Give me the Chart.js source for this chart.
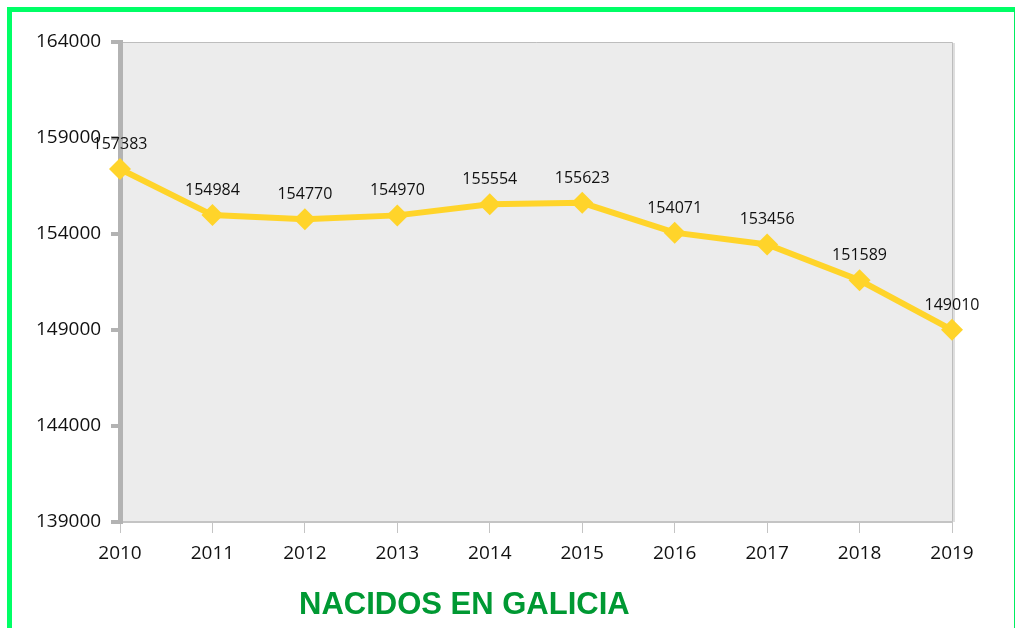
<!DOCTYPE html>
<html>
<head>
<meta charset="utf-8">
<title>Nacidos en Galicia</title>
<script src="https://cdn.jsdelivr.net/npm/chart.js@4"></script>
<style>
  body{margin:0;background:#fff;overflow:hidden;}
  #marco{position:absolute;left:7px;top:7px;width:1008px;height:640px;box-sizing:border-box;
    border-top:5px solid #00ff66;border-left:5px solid #00ff66;border-right:1px solid #00ee60;pointer-events:none;}
  #titulo{position:absolute;left:299px;top:588px;font:bold 31px "Liberation Sans",Arial,sans-serif;
    color:#009933;line-height:31px;white-space:nowrap;}
</style>
</head>
<body>
<canvas id="grafico" width="1016" height="628"></canvas>
<div id="marco"></div>
<div id="titulo">NACIDOS EN GALICIA</div>
<script>
const anios = ["2010","2011","2012","2013","2014","2015","2016","2017","2018","2019"];
const nacidos = [157383,154984,154770,154970,155554,155623,154071,153456,151589,149010];
const ticksY = [139000,144000,149000,154000,159000,164000];

const fondo = {
    id: 'fondo',
    beforeDraw(chart){
        const ctx = chart.ctx;
        const a = chart.chartArea;
        ctx.save();
        ctx.fillStyle = '#ececec';
        ctx.fillRect(a.left, a.top, a.right - a.left, a.bottom - a.top);
        // borde de arriba y derecha
        ctx.strokeStyle = '#bdbdbd';
        ctx.lineWidth = 1;
        ctx.beginPath();
        ctx.moveTo(a.left, a.top + 0.5);
        ctx.lineTo(a.right + 0.5, a.top + 0.5);
        ctx.lineTo(a.right + 0.5, a.bottom);
        ctx.stroke();
        ctx.strokeStyle = '#dedede';
        ctx.lineWidth = 2;
        ctx.beginPath();
        ctx.moveTo(a.right + 2, a.top + 1);
        ctx.lineTo(a.right + 2, a.bottom);
        ctx.stroke();
        ctx.restore();
    }
};

const etiquetas = {
    id: 'etiquetas',
    afterDatasetsDraw(chart){
        const ctx = chart.ctx;
        const meta = chart.getDatasetMeta(0);
        ctx.save();
        ctx.font = '16px "Open Sans"';
        ctx.fillStyle = '#111';
        ctx.textAlign = 'center';
        ctx.textBaseline = 'alphabetic';
        meta.data.forEach((p, i) => {
            ctx.fillText(String(nacidos[i]), p.x, p.y - 20);
        });
        ctx.restore();
    }
};

function dibujar(){
    const ctx = document.getElementById('grafico').getContext('2d');
    new Chart(ctx, {
        type: 'line',
        data: {
            labels: anios,
            datasets: [{
                data: nacidos,
                borderColor: '#ffd42a',
                backgroundColor: '#ffd42a',
                borderWidth: 6,
                tension: 0,
                pointStyle: 'rectRot',
                pointRadius: 11,
                pointBorderWidth: 0,
                pointBackgroundColor: '#ffd42a',
                clip: false
            }]
        },
        options: {
            responsive: false,
            animation: false,
            layout: { padding: { left: 36, top: 42, right: 64, bottom: 0 } },
            plugins: {
                legend: { display: false },
                tooltip: { enabled: false }
            },
            scales: {
                x: {
                    offset: false,
                    grid: { drawOnChartArea: false, tickLength: 11, color: '#c4c4c4', lineWidth: 1 },
                    border: { color: '#c4c4c4', width: 2 },
                    ticks: { font: { family: 'Open Sans', size: 19 }, color: '#111', padding: 9, maxRotation: 0 },
                    afterFit(s){ s.height = 106; }
                },
                y: {
                    min: ticksY[0],
                    max: ticksY[ticksY.length - 1],
                    ticks: {
                        stepSize: ticksY[1] - ticksY[0],
                        font: { family: 'Open Sans', size: 19 },
                        color: '#111',
                        crossAlign: 'far',
                        callback: v => String(v)
                    },
                    grid: { drawOnChartArea: false, tickLength: 9, lineWidth: 4, color: '#b3b3b3' },
                    border: { color: '#b3b3b3', width: 5 },
                    afterFit(s){ s.width = 84; }
                }
            }
        },
        plugins: [fondo, etiquetas]
    });
}

window.addEventListener('load', dibujar);
</script>
</body>
</html>
